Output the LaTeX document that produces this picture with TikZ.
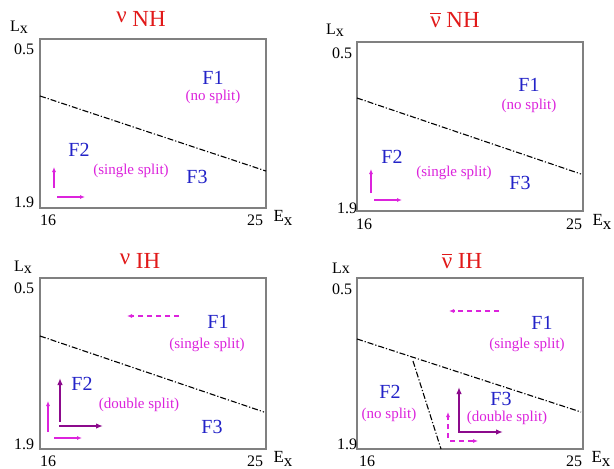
\documentclass[tikz,border=0pt]{standalone}
\usepackage{fontspec}
\setmainfont{Liberation Serif}
\newfontfamily\tms{Liberation Serif}
\usetikzlibrary{arrows.meta}
\definecolor{ttl}{RGB}{225,25,25}
\definecolor{fblue}{RGB}{35,35,200}
\definecolor{mag}{RGB}{220,35,220}
\definecolor{purp}{RGB}{140,10,140}
\definecolor{framegray}{RGB}{128,128,128}
\newcommand{\nubar}{\setbox0\hbox{ν}\makebox[0pt][l]{\raisebox{13pt}{\rule{\wd0}{1.6pt}}}\box0}
\begin{document}
\begin{tikzpicture}[x=1pt,y=-1pt,
  frame/.style={draw=framegray, line width=1.4pt},
  sep/.style={line width=1.1pt, dash pattern=on 6pt off 2pt on 1.2pt off 2pt},
  title/.style={text=ttl, font=\tms\fontsize{23}{23}\selectfont, inner sep=0pt},
  flab/.style={text=fblue, font=\tms\fontsize{20}{20}\selectfont, inner sep=0pt},
  slab/.style={text=mag, font=\tms\fontsize{15}{15}\selectfont, inner sep=0pt},
  num/.style={font=\tms\fontsize{16}{16}\selectfont, inner sep=0pt},
  exlab/.style={font=\tms\fontsize{17}{17}\selectfont, inner sep=0pt},
  thinarr/.style={draw=mag, line width=1.2pt, -{Latex[length=5pt,width=4pt]}},
  thindash/.style={thinarr, dash pattern=on 5pt off 4pt},
  thickarr/.style={draw=purp, line width=2.4pt, -{Latex[length=7pt,width=5.5pt]}}]
\useasboundingbox (0,0) rectangle (614,469);
\fill[white] (0,0) rectangle (614,469);

% ---------- Panel 1: nu NH ----------
\draw[frame] (40,39) rectangle (266,208);
\coordinate (a1) at (40,96); \coordinate (b1) at (266,171);
\draw[sep] (a1) -- (b1);
\node[title] (t1) at (141,19) {\raisebox{4pt}{ν} NH};
\node[num] (l1) at (19,27) {L\raisebox{-2pt}{x}};
\node[num] (ya1) at (24,49) {0.5};
\node[num] (yb1) at (24,202) {1.9};
\node[num] (xa1) at (48,220) {16};
\node[num] (xb1) at (255,220) {25};
\node[exlab] (e1) at (283,218) {E\raisebox{-4pt}{x}};
\node[flab] (f11) at (213,78) {F1};
\node[slab] (s11) at (213,97) {(no split)};
\node[flab] (f21) at (79,150) {F2};
\node[slab] (s21) at (131,171) {(single split)};
\node[flab] (f31) at (197,177) {F3};
\coordinate (v1a) at (54,188); \coordinate (v1b) at (54,167);
\coordinate (h1a) at (57,197); \coordinate (h1b) at (85,197);
\draw[thinarr] (v1a) -- (v1b);
\draw[thinarr] (h1a) -- (h1b);

% ---------- Panel 2: nubar NH ----------
\draw[frame] (357,42) rectangle (583,211);
\coordinate (a2) at (357,98); \coordinate (b2) at (581,174);
\draw[sep] (a2) -- (b2);
\node[title] (t2) at (455,20) {\nubar\ NH};
\node[num] (l2) at (335,30) {L\raisebox{-2pt}{x}};
\node[num] (ya2) at (342,53) {0.5};
\node[num] (yb2) at (347,208) {1.9};
\node[num] (xa2) at (364,224) {16};
\node[num] (xb2) at (574,224) {25};
\node[exlab] (e2) at (602,222) {E\raisebox{-4pt}{x}};
\node[flab] (f12) at (529,85) {F1};
\node[slab] (s12) at (529,106) {(no split)};
\node[flab] (f22) at (392,157) {F2};
\node[slab] (s22) at (454,173) {(single split)};
\node[flab] (f32) at (520,183) {F3};
\coordinate (v2a) at (371,193); \coordinate (v2b) at (371,169);
\coordinate (h2a) at (374,200); \coordinate (h2b) at (402,200);
\draw[thinarr] (v2a) -- (v2b);
\draw[thinarr] (h2a) -- (h2b);

% ---------- Panel 3: nu IH ----------
\draw[frame] (40,278) rectangle (266,449);
\coordinate (a3) at (40,336); \coordinate (b3) at (264,412);
\draw[sep] (a3) -- (b3);
\node[title] (t3) at (140,261) {\raisebox{4pt}{ν} IH};
\node[num] (l3) at (23,267) {L\raisebox{-2pt}{x}};
\node[num] (ya3) at (24,288) {0.5};
\node[num] (yb3) at (24,444) {1.9};
\node[num] (xa3) at (48,461) {16};
\node[num] (xb3) at (255,461) {25};
\node[exlab] (e3) at (283,459) {E\raisebox{-4pt}{x}};
\node[flab] (f13) at (218,322) {F1};
\node[slab] (s13) at (207,345) {(single split)};
\node[flab] (f23) at (82,384) {F2};
\node[slab] (s23) at (139,405) {(double split)};
\node[flab] (f33) at (212,427) {F3};
\coordinate (d3a) at (179,316); \coordinate (d3b) at (127,316);
\draw[thindash] (d3a) -- (d3b);
\coordinate (v3a) at (48,432); \coordinate (v3b) at (48,401);
\coordinate (h3a) at (54,438); \coordinate (h3b) at (82,438);
\draw[thinarr] (v3a) -- (v3b);
\draw[thinarr] (h3a) -- (h3b);
\coordinate (V3a) at (60,422); \coordinate (V3b) at (60,378);
\coordinate (H3a) at (59,426); \coordinate (H3b) at (103,426);
\draw[thickarr] (V3a) -- (V3b);
\draw[thickarr] (H3a) -- (H3b);

% ---------- Panel 4: nubar IH ----------
\draw[frame] (357,278) rectangle (583,449);
\coordinate (a4) at (357,339); \coordinate (b4) at (581,412);
\draw[sep] (a4) -- (b4);
\coordinate (c4) at (413,361); \coordinate (d4) at (441,449);
\draw[sep] (c4) -- (d4);
\node[title] (t4) at (462,261) {\nubar\ IH};
\node[num] (l4) at (341,268) {Lx};
\node[num] (ya4) at (342,289) {0.5};
\node[num] (yb4) at (347,444) {1.9};
\node[num] (xa4) at (367,461) {16};
\node[num] (xb4) at (574,461) {25};
\node[exlab] (e4) at (601,459) {E\raisebox{-4pt}{x}};
\node[flab] (f14) at (542,323) {F1};
\node[slab] (s14) at (527,345) {(single split)};
\node[flab] (f24) at (390,392) {F2};
\node[slab] (s24) at (389,415) {(no split)};
\node[flab] (f34) at (501,399) {F3};
\node[slab] (s34) at (507,418) {(double split)};
\coordinate (d4a) at (499,311); \coordinate (d4b) at (449,311);
\draw[thindash] (d4a) -- (d4b);
\coordinate (v4a) at (448,438); \coordinate (v4b) at (448,412);
\coordinate (h4a) at (450,441); \coordinate (h4b) at (478,441);
\draw[thindash] (v4a) -- (v4b);
\draw[thindash] (h4a) -- (h4b);
\coordinate (V4a) at (459,432); \coordinate (V4b) at (459,387);
\coordinate (H4a) at (458,432); \coordinate (H4b) at (503,432);
\draw[thickarr] (V4a) -- (V4b);
\draw[thickarr] (H4a) -- (H4b);
\end{tikzpicture}
\end{document}
